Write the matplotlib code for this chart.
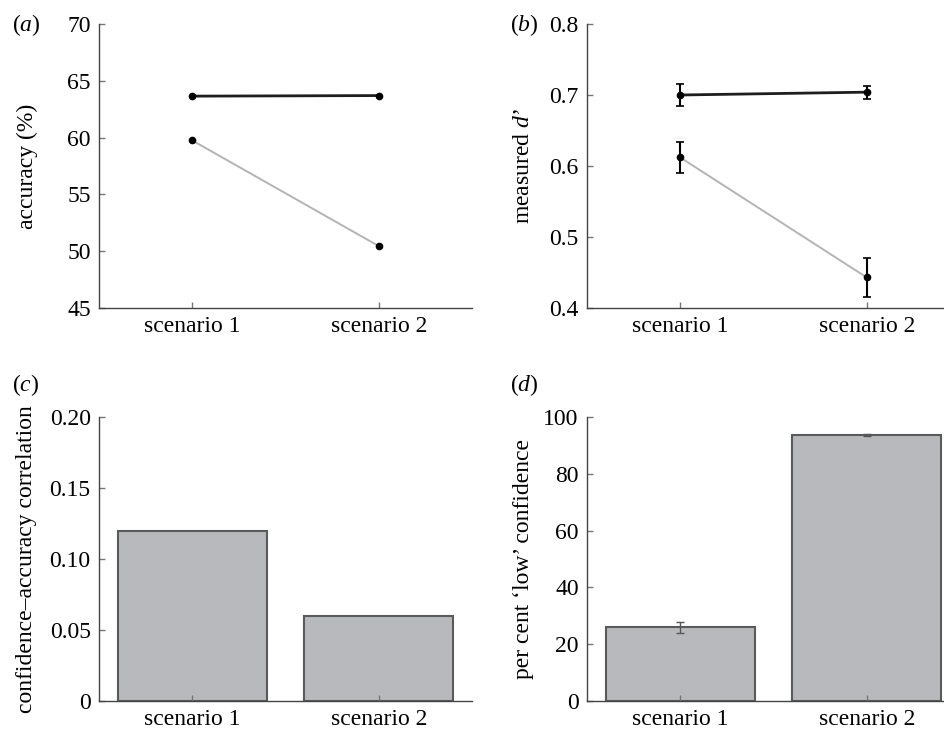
import matplotlib
matplotlib.use('Agg')
import matplotlib.pyplot as plt
import numpy as np

plt.rcParams['font.family'] = ['Liberation Serif', 'DejaVu Serif']
plt.rcParams['mathtext.fontset'] = 'custom'
plt.rcParams['mathtext.rm'] = 'Liberation Serif'
plt.rcParams['mathtext.it'] = 'Liberation Serif:italic'

scenarios = ['scenario 1', 'scenario 2']
x = np.array([1, 2])

# (a) accuracy (%)
acc_dark = [63.65, 63.7]
acc_light = [59.75, 50.45]

# (b) measured d'
d_dark = [0.700, 0.704]
d_dark_err = [0.016, 0.009]
d_light = [0.612, 0.443]
d_light_err = [0.022, 0.028]

# (c) confidence-accuracy correlation
corr = [0.12, 0.06]

# (d) percent 'low' confidence
low_conf = [25.9, 93.7]
low_conf_err = [1.9, 0.3]

dark = '#1e1e1e'
light = '#b4b4b4'
bar_fill = '#b8b9bc'
bar_edge = '#5a5a5a'
spine_col = '#444444'
FS = 17

fig = plt.figure(figsize=(9.44, 7.31), dpi=100)

W = 373 / 944
H = 284 / 731
ax_a = fig.add_axes([99 / 944, 1 - 308 / 731, W, H])
ax_b = fig.add_axes([587 / 944, 1 - 308 / 731, W, H])
ax_c = fig.add_axes([99 / 944, 1 - 701 / 731, W, H])
ax_d = fig.add_axes([587 / 944, 1 - 701 / 731, W, H])


def style(ax):
    for s in ['top', 'right']:
        ax.spines[s].set_visible(False)
    for s in ['left', 'bottom']:
        ax.spines[s].set_color(spine_col)
        ax.spines[s].set_linewidth(1.0)
    ax.tick_params(direction='in', length=4, width=1, color='#777777',
                   labelsize=FS, pad=6)
    ax.set_xlim(0.5, 2.5)
    ax.set_xticks(x)
    ax.set_xticklabels(scenarios)


# (a)
ax_a.plot(x, acc_dark, color=dark, lw=2.0, marker='o', ms=4.5, mfc='black', mec='black')
ax_a.plot(x, acc_light, color=light, lw=1.4, marker='o', ms=4.5, mfc='black', mec='black')
ax_a.set_ylim(45, 70)
ax_a.set_yticks([45, 50, 55, 60, 65, 70])
ax_a.set_ylabel('accuracy (%)', fontsize=FS)
style(ax_a)
ax_a.yaxis.set_label_coords(-0.164, 0.5)

# (b)
ax_b.plot(x, d_light, color=light, lw=1.4, zorder=2)
ax_b.plot(x, d_dark, color=dark, lw=2.0, zorder=2)
ax_b.errorbar(x, d_dark, yerr=d_dark_err, fmt='o', color='black', ms=4.5,
              elinewidth=1.5, capsize=3, capthick=1.2, zorder=3)
ax_b.errorbar(x, d_light, yerr=d_light_err, fmt='o', color='black', ms=4.5,
              elinewidth=1.5, capsize=3, capthick=1.2, zorder=3)
ax_b.set_ylim(0.4, 0.8)
ax_b.set_yticks([0.4, 0.5, 0.6, 0.7, 0.8])
ax_b.set_yticklabels(['0.4', '0.5', '0.6', '0.7', '0.8'])
ax_b.set_ylabel('measured $d$\u2019', fontsize=FS)
style(ax_b)
ax_b.yaxis.set_label_coords(-0.142, 0.5)

# (c)
ax_c.bar(x, corr, width=0.8, color=bar_fill, edgecolor=bar_edge, linewidth=1.5)
ax_c.set_ylim(0, 0.2)
ax_c.set_yticks([0, 0.05, 0.10, 0.15, 0.20])
ax_c.set_yticklabels(['0', '0.05', '0.10', '0.15', '0.20'])
ax_c.set_ylabel('confidence\u2013accuracy correlation', fontsize=FS)
style(ax_c)
ax_c.yaxis.set_label_coords(-0.166, 0.5)

# (d)
ax_d.bar(x, low_conf, width=0.8, color=bar_fill, edgecolor=bar_edge, linewidth=1.5)
ax_d.errorbar(x, low_conf, yerr=low_conf_err, fmt='none', ecolor='#555555',
              elinewidth=1.0, capsize=3, capthick=1.0)
ax_d.set_ylim(0, 100)
ax_d.set_yticks([0, 20, 40, 60, 80, 100])
ax_d.set_ylabel('per cent \u2018low\u2019 confidence', fontsize=FS)
style(ax_d)
ax_d.yaxis.set_label_coords(-0.142, 0.5)

# panel letters
for lab, px, py in [('a', 12, 25), ('b', 510, 25), ('c', 12, 385), ('d', 510, 385)]:
    fig.text(px / 944, 1 - py / 731, '(' + '$\\it{' + lab + '}$' + ')',
             fontsize=FS, ha='left', va='center')

fig.savefig('out.png', dpi=100)
